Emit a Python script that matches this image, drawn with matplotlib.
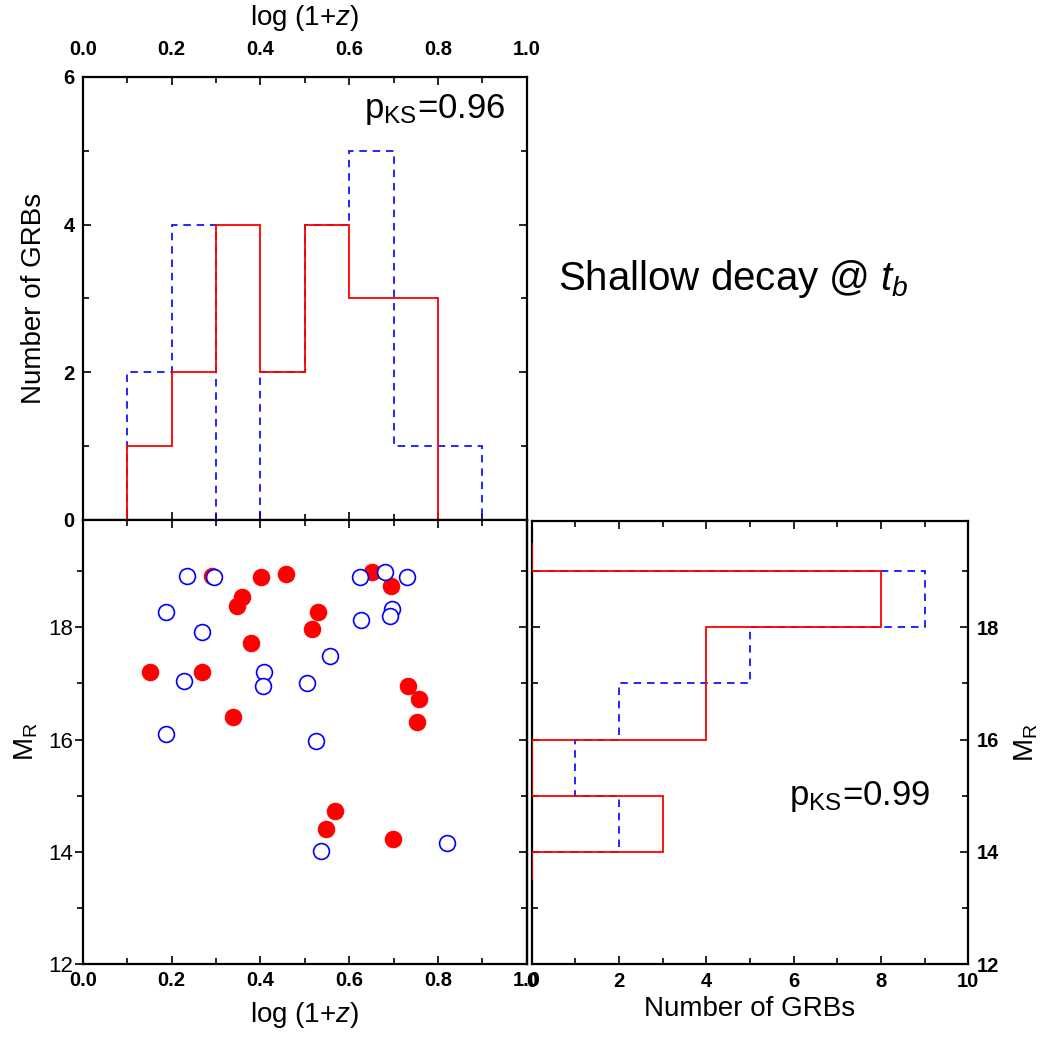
import numpy as np
import matplotlib
matplotlib.use("Agg")
import matplotlib.pyplot as plt
from matplotlib.ticker import MultipleLocator

plt.rcParams['font.family'] = ['Liberation Sans', 'DejaVu Sans']
plt.rcParams['mathtext.fontset'] = 'custom'
plt.rcParams['mathtext.rm'] = 'Liberation Sans'
plt.rcParams['mathtext.it'] = 'Liberation Sans:italic'
plt.rcParams['mathtext.bf'] = 'Liberation Sans:bold'

# ---------------- data ----------------
# open blue circles: log(1+z), M_R
blue_logz = [0.2345, 0.296, 0.188, 0.269, 0.228, 0.409, 0.4066, 0.505, 0.5577,
             0.625, 0.680, 0.730, 0.6276, 0.6967, 0.692, 0.187, 0.5246, 0.536, 0.820]
blue_MR = [18.92, 18.89, 18.28, 17.91, 17.05, 17.20, 16.95, 17.01, 17.49,
           18.89, 18.99, 18.89, 18.13, 18.32, 18.20, 16.10, 15.97, 14.02, 14.16]
# filled red circles: log(1+z), M_R
red_logz = [0.290, 0.401, 0.457, 0.358, 0.3465, 0.529, 0.5156, 0.378, 0.151, 0.269,
            0.651, 0.694, 0.3375, 0.732, 0.757, 0.7524, 0.567, 0.548, 0.6997]
red_MR = [18.91, 18.89, 18.95, 18.54, 18.38, 18.28, 17.97, 17.72, 17.20, 17.20,
          18.99, 18.74, 16.40, 16.95, 16.73, 16.31, 14.72, 14.40, 14.23]

z_bins = np.round(np.arange(0.0, 1.0001, 0.1), 2)
mr_bins = np.arange(12, 21, 1)
pks_z = "0.96"
pks_mr = "0.99"

RED = '#ff0000'
BLUE = '#0000ff'
TICK_FS = 14.5

def step_xy(values, edges, pad):
    values = np.asarray(values)
    nz = np.nonzero(values)[0]
    i0, i1 = nz[0], nz[-1]
    v = np.concatenate([[0], values[i0:i1 + 1], [0]])
    e = np.concatenate([[edges[i0] - pad], edges[i0:i1 + 2], [edges[i1 + 1] + pad]])
    return v, e

fig = plt.figure(figsize=(10.51, 10.40), dpi=100)
W, H = 1051.0, 1040.0
def pos(x0, y0, x1, y1):
    return [x0 / W, 1 - y1 / H, (x1 - x0) / W, (y1 - y0) / H]

ax1 = fig.add_axes(pos(83, 77, 526.7, 519.5))
ax2 = fig.add_axes(pos(83, 519.5, 526.7, 964))
ax3 = fig.add_axes(pos(531.5, 520.7, 968.3, 964))

# ---------- top histogram ----------
rc, _ = np.histogram(red_logz, bins=z_bins)
bc, _ = np.histogram(blue_logz, bins=z_bins)
v, e = step_xy(bc, z_bins, 0.05)
ax1.stairs(v, e, baseline=None, color=BLUE, lw=1.2, linestyle=(0, (4.5, 3.5)), zorder=2)
v, e = step_xy(rc, z_bins, 0.05)
ax1.stairs(v, e, baseline=None, color=RED, lw=1.3, zorder=3)
ax1.set_xlim(0, 1)
ax1.set_ylim(0, 6)
ax1.xaxis.set_major_locator(MultipleLocator(0.2))
ax1.xaxis.set_minor_locator(MultipleLocator(0.1))
ax1.yaxis.set_major_locator(MultipleLocator(2))
ax1.yaxis.set_minor_locator(MultipleLocator(1))
ax1.tick_params(axis='both', which='both', direction='in', top=True, bottom=True,
                left=True, right=True, width=1.2)
ax1.tick_params(axis='both', which='major', length=6)
ax1.tick_params(axis='both', which='minor', length=4)
ax1.tick_params(axis='x', labeltop=True, labelbottom=False, pad=13)
ax1.tick_params(axis='y', pad=6)
ax1.xaxis.set_major_formatter(matplotlib.ticker.FormatStrFormatter('%.1f'))
for t in ax1.get_xticklabels() + ax1.get_yticklabels():
    t.set_fontsize(TICK_FS); t.set_fontweight('bold')
ax1.xaxis.set_label_position('top')
ax1.set_xlabel(r'log (1+$z$)', fontsize=20, labelpad=11)
ax1.set_ylabel('Number of GRBs', fontsize=20, labelpad=12)
ax1.text(0.9515, 5.44, r'p$_{\mathrm{KS}}$=' + pks_z, fontsize=25, ha='right', va='baseline')

# ---------- scatter ----------
ax2.scatter(red_logz, red_MR, s=140, facecolor=RED, edgecolor=RED, lw=0.8, zorder=3)
ax2.scatter(blue_logz, blue_MR, s=130, facecolor='white', edgecolor=BLUE, lw=1.2, zorder=4)
ax2.set_xlim(0, 1)
ax2.set_ylim(12, 19.92)
ax2.xaxis.set_major_locator(MultipleLocator(0.2))
ax2.xaxis.set_minor_locator(MultipleLocator(0.1))
ax2.yaxis.set_major_locator(MultipleLocator(2))
ax2.yaxis.set_minor_locator(MultipleLocator(1))
ax2.xaxis.set_major_formatter(matplotlib.ticker.FormatStrFormatter('%.1f'))
ax2.tick_params(axis='x', which='both', direction='in', top=True, bottom=True, width=1.2, pad=5)
ax2.tick_params(axis='y', which='both', direction='out', left=True, right=False, width=1.2, pad=1)
ax2.tick_params(which='major', length=6)
ax2.tick_params(which='minor', length=4)
for t in ax2.get_xticklabels():
    t.set_fontsize(TICK_FS); t.set_fontweight('bold')
for t in ax2.get_yticklabels():
    t.set_fontsize(16)
sec = ax2.secondary_yaxis('right')
sec.yaxis.set_major_locator(MultipleLocator(2))
sec.yaxis.set_minor_locator(MultipleLocator(1))
sec.tick_params(which='both', direction='in', labelright=False, width=1.2)
sec.tick_params(which='major', length=6)
sec.tick_params(which='minor', length=4)
sec.spines['right'].set_linewidth(1.6)
ax2.set_xlabel(r'log (1+$z$)', fontsize=20, labelpad=7)
ax2.set_ylabel(r'M$_{\mathrm{R}}$', fontsize=20, labelpad=6)

# ---------- right histogram ----------
rc2, _ = np.histogram(red_MR, bins=mr_bins)
bc2, _ = np.histogram(blue_MR, bins=mr_bins)
v, e = step_xy(bc2, mr_bins, 0.5)
ax3.stairs(v, e, baseline=None, orientation='horizontal', color=BLUE, lw=1.2,
           linestyle=(0, (4.5, 3.5)), zorder=2)
v, e = step_xy(rc2, mr_bins, 0.5)
ax3.stairs(v, e, baseline=None, orientation='horizontal', color=RED, lw=1.3, zorder=3)
ax3.set_xlim(0, 10)
ax3.set_ylim(12, 19.9)
ax3.xaxis.set_major_locator(MultipleLocator(2))
ax3.xaxis.set_minor_locator(MultipleLocator(1))
ax3.yaxis.set_major_locator(MultipleLocator(2))
ax3.yaxis.set_minor_locator(MultipleLocator(1))
ax3.tick_params(axis='both', which='both', direction='in', top=True, bottom=True,
                left=True, right=True, width=1.2)
ax3.tick_params(which='major', length=6)
ax3.tick_params(which='minor', length=4)
ax3.tick_params(axis='y', labelleft=False, labelright=True, pad=6)
ax3.tick_params(axis='x', pad=6)
for t in ax3.get_xticklabels() + ax3.get_yticklabels():
    t.set_fontsize(TICK_FS); t.set_fontweight('bold')
ax3.yaxis.set_label_position('right')
ax3.set_ylabel(r'M$_{\mathrm{R}}$', fontsize=20, labelpad=10)
ax3.set_xlabel('Number of GRBs', fontsize=20, labelpad=3)
ax3.text(9.12, 14.83, r'p$_{\mathrm{KS}}$=' + pks_mr, fontsize=25, ha='right', va='baseline')

for ax in (ax1, ax2, ax3):
    for s in ax.spines.values():
        s.set_linewidth(1.6)

fig.text(558 / W, 1 - 290 / H, r'Shallow decay @ $t_b$', fontsize=29, ha='left', va='baseline')

fig.savefig('out.png', dpi=100)
